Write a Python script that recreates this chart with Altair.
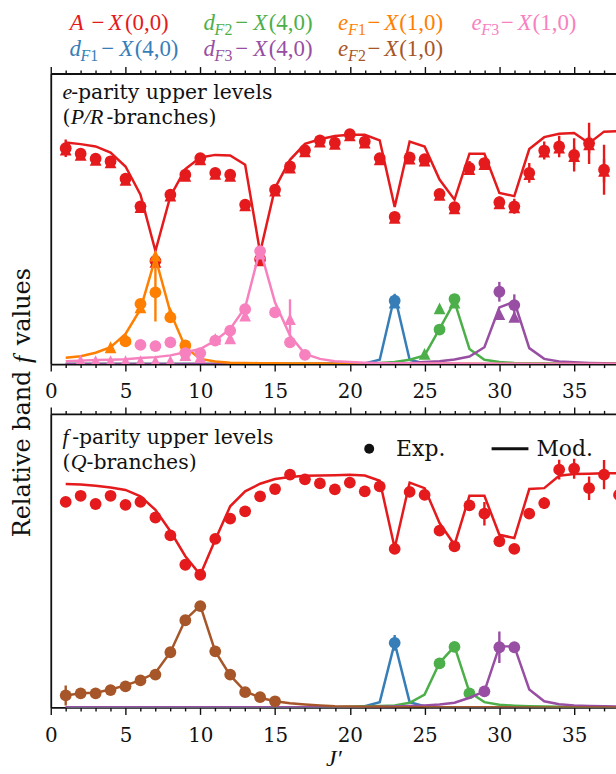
import altair as alt
import pandas as pd

# ---------------------------------------------------------------
# Rotational levels J' = 1..38 (model curves)
# ---------------------------------------------------------------
J = list(range(1, 39))

RED, BLUE, GREEN, PURPLE = "#e41a1c", "#377eb8", "#4daf4a", "#984ea3"
ORANGE, BROWN, PINK = "#ff7f00", "#a65628", "#f781bf"

# ---- e-parity upper levels (P/R branches): model ----
e_model_A = [0.763, 0.757, 0.749, 0.728, 0.680, 0.583, 0.389, 0.578, 0.671, 0.711,
             0.720, 0.718, 0.686, 0.384, 0.606, 0.703, 0.758, 0.774, 0.785, 0.789,
             0.789, 0.770, 0.541, 0.766, 0.749, 0.635, 0.566, 0.724, 0.724, 0.589,
             0.578, 0.740, 0.781, 0.793, 0.795, 0.760, 0.800, 0.802]
e_model_dF1 = [0.000, 0.000, 0.000, 0.000, 0.000, 0.000, 0.000, 0.000, 0.000, 0.000,
               0.000, 0.000, 0.000, 0.000, 0.000, 0.000, 0.000, 0.000, 0.000, 0.000,
               0.002, 0.015, 0.235, 0.015, 0.002, 0.000, 0.000, 0.000, 0.000, 0.000,
               0.000, 0.000, 0.000, 0.000, 0.000, 0.000, 0.000, 0.000]
e_model_dF2 = [0.000, 0.000, 0.000, 0.000, 0.000, 0.000, 0.000, 0.000, 0.000, 0.000,
               0.000, 0.000, 0.000, 0.000, 0.000, 0.001, 0.001, 0.001, 0.001, 0.002,
               0.003, 0.004, 0.007, 0.015, 0.030, 0.121, 0.215, 0.052, 0.015, 0.007,
               0.004, 0.003, 0.002, 0.001, 0.001, 0.001, 0.001, 0.001]
e_model_dF3 = [0.000, 0.000, 0.000, 0.000, 0.000, 0.000, 0.000, 0.000, 0.000, 0.000,
               0.000, 0.000, 0.000, 0.000, 0.000, 0.000, 0.000, 0.001, 0.001, 0.001,
               0.001, 0.002, 0.003, 0.004, 0.007, 0.010, 0.016, 0.026, 0.058, 0.195,
               0.215, 0.055, 0.018, 0.009, 0.006, 0.004, 0.003, 0.002]
e_model_eF1 = [0.022, 0.027, 0.039, 0.058, 0.104, 0.189, 0.366, 0.178, 0.058, 0.018,
               0.009, 0.005, 0.004, 0.003, 0.003, 0.002, 0.002, 0.002, 0.001, 0.001,
               0.001, 0.001, 0.001, 0.001, 0.001, 0.001, 0.001, 0.001, 0.000, 0.000,
               0.000, 0.000, 0.000, 0.000, 0.000, 0.000, 0.000, 0.000]
e_model_eF3 = [0.010, 0.012, 0.014, 0.015, 0.017, 0.021, 0.024, 0.030, 0.041, 0.052,
               0.081, 0.121, 0.195, 0.395, 0.212, 0.098, 0.035, 0.018, 0.010, 0.007,
               0.005, 0.004, 0.003, 0.003, 0.002, 0.002, 0.002, 0.001, 0.001, 0.001,
               0.001, 0.001, 0.000, 0.000, 0.000, 0.000, 0.000, 0.000]

# ---- e-parity: measurements (circles = P branch, triangles = R branch) ----
eP_A_J = list(range(1, 38))
eP_A = [0.743, 0.724, 0.707, 0.698, 0.638, 0.543, 0.355, 0.583, 0.652, 0.709,
        0.658, 0.652, 0.549, 0.361, 0.600, 0.680, 0.736, 0.770, 0.762, 0.791,
        0.766, 0.709, 0.507, 0.711, 0.705, 0.586, 0.540, 0.675, 0.692, 0.557,
        0.543, 0.658, 0.735, 0.749, 0.720, 0.760, 0.669]
eP_A_err = [0.030, 0.012, 0.012, 0.012, 0.012, 0.012, 0.010, 0.012, 0.012, 0.012,
            0.012, 0.012, 0.012, 0.010, 0.012, 0.012, 0.012, 0.012, 0.012, 0.012,
            0.012, 0.012, 0.015, 0.012, 0.012, 0.015, 0.015, 0.024, 0.018, 0.020,
            0.026, 0.034, 0.031, 0.037, 0.057, 0.071, 0.086]
eR_A_J = list(range(1, 38))
eR_A = [0.738, 0.720, 0.703, 0.694, 0.634, 0.540, 0.352, 0.580, 0.648, 0.705,
        0.655, 0.648, 0.546, 0.357, 0.597, 0.676, 0.732, 0.766, 0.758, 0.787,
        0.762, 0.705, 0.503, 0.707, 0.700, 0.582, 0.536, 0.671, 0.688, 0.553,
        0.539, 0.654, 0.731, 0.745, 0.716, 0.756, 0.665]
eR_A_err = [0.010, 0.010, 0.010, 0.010, 0.010, 0.010, 0.010, 0.010, 0.010, 0.010,
            0.010, 0.010, 0.010, 0.010, 0.010, 0.010, 0.010, 0.010, 0.010, 0.010,
            0.010, 0.010, 0.012, 0.010, 0.010, 0.012, 0.012, 0.015, 0.012, 0.015,
            0.018, 0.020, 0.020, 0.020, 0.030, 0.030, 0.040]

eP_dF1_J, eP_dF1, eP_dF1_err = [23], [0.218], [0.024]
eR_dF1_J, eR_dF1, eR_dF1_err = [23], [0.212], [0.010]
eP_dF2_J, eP_dF2, eP_dF2_err = [26, 27], [0.119, 0.224], [0.010, 0.012]
eR_dF2_J, eR_dF2, eR_dF2_err = [25, 26, 27], [0.035, 0.192, 0.212], [0.006, 0.010, 0.010]
eP_dF3_J, eP_dF3, eP_dF3_err = [30, 31], [0.249, 0.203], [0.034, 0.037]
eR_dF3_J, eR_dF3, eR_dF3_err = [30, 31], [0.172, 0.163], [0.010, 0.010]
eP_eF1_J = [5, 6, 7, 8, 9]
eP_eF1 = [0.078, 0.207, 0.247, 0.161, 0.064]
eP_eF1_err = [0.010, 0.012, 0.100, 0.012, 0.010]
eR_eF1_J = [4, 5, 6, 7, 8, 9]
eR_eF1 = [0.058, 0.089, 0.195, 0.373, 0.175, 0.062]
eR_eF1_err = [0.008, 0.008, 0.010, 0.010, 0.010, 0.008]
eP_eF3_J = [6, 7, 8, 9, 10, 11, 12, 13, 14, 15, 16, 17]
eP_eF3 = [0.066, 0.062, 0.075, 0.038, 0.038, 0.081, 0.115, 0.189, 0.389, 0.178, 0.075, 0.032]
eP_eF3_err = [0.008, 0.008, 0.008, 0.008, 0.008, 0.008, 0.010, 0.012, 0.012, 0.012, 0.010, 0.008]
eR_eF3_J = [2, 3, 4, 5, 6, 7, 8, 9, 10, 11, 12, 13, 14, 16]
eR_eF3 = [0.012, 0.010, 0.010, 0.010, 0.010, 0.010, 0.010, 0.031, 0.024, 0.087, 0.089, 0.167, 0.380, 0.155]
eR_eF3_err = [0.006, 0.006, 0.006, 0.006, 0.006, 0.006, 0.006, 0.006, 0.006, 0.008, 0.008, 0.010, 0.010, 0.068]

# ---- f-parity upper levels (Q branches): model ----
f_model_A = [0.761, 0.759, 0.755, 0.749, 0.741, 0.719, 0.673, 0.600, 0.515, 0.452,
             0.571, 0.685, 0.736, 0.762, 0.778, 0.785, 0.789, 0.790, 0.791, 0.793,
             0.790, 0.772, 0.543, 0.766, 0.747, 0.628, 0.554, 0.721, 0.721, 0.588,
             0.577, 0.744, 0.747, 0.789, 0.795, 0.796, 0.798, 0.798]
f_model_dF1 = [0.000, 0.000, 0.000, 0.000, 0.000, 0.000, 0.000, 0.000, 0.000, 0.000,
               0.000, 0.000, 0.000, 0.000, 0.000, 0.000, 0.000, 0.000, 0.000, 0.000,
               0.004, 0.018, 0.220, 0.018, 0.004, 0.000, 0.000, 0.000, 0.000, 0.000,
               0.000, 0.000, 0.000, 0.000, 0.000, 0.000, 0.000, 0.000]
f_model_dF2 = [0.000, 0.000, 0.000, 0.000, 0.000, 0.000, 0.000, 0.000, 0.000, 0.000,
               0.000, 0.000, 0.000, 0.000, 0.000, 0.001, 0.001, 0.001, 0.001, 0.002,
               0.003, 0.005, 0.007, 0.016, 0.044, 0.152, 0.208, 0.052, 0.018, 0.009,
               0.006, 0.004, 0.003, 0.002, 0.001, 0.001, 0.001, 0.001]
f_model_dF3 = [0.001, 0.001, 0.001, 0.001, 0.001, 0.001, 0.001, 0.001, 0.001, 0.001,
               0.001, 0.001, 0.001, 0.001, 0.001, 0.001, 0.001, 0.001, 0.001, 0.001,
               0.001, 0.002, 0.003, 0.005, 0.007, 0.010, 0.016, 0.033, 0.055, 0.208,
               0.208, 0.061, 0.021, 0.011, 0.007, 0.005, 0.004, 0.003]
f_model_eF2 = [0.041, 0.048, 0.050, 0.061, 0.075, 0.093, 0.118, 0.188, 0.299, 0.347,
               0.191, 0.109, 0.055, 0.033, 0.021, 0.014, 0.010, 0.007, 0.004, 0.003,
               0.002, 0.002, 0.001, 0.001, 0.001, 0.001, 0.001, 0.001, 0.001, 0.001,
               0.000, 0.000, 0.000, 0.000, 0.000, 0.000, 0.000, 0.000]

# ---- f-parity: measurements ----
fQ_A_J = list(range(1, 39))
fQ_A = [0.700, 0.721, 0.693, 0.721, 0.690, 0.700, 0.647, 0.586, 0.486, 0.452,
        0.574, 0.643, 0.668, 0.719, 0.744, 0.793, 0.777, 0.763, 0.743, 0.766,
        0.736, 0.753, 0.540, 0.734, 0.724, 0.602, 0.549, 0.688, 0.660, 0.566,
        0.540, 0.660, 0.696, 0.810, 0.813, 0.747, 0.793, 0.724]
fQ_A_err = [0.008, 0.008, 0.008, 0.008, 0.008, 0.008, 0.008, 0.008, 0.008, 0.008,
            0.008, 0.008, 0.008, 0.008, 0.008, 0.008, 0.008, 0.008, 0.008, 0.008,
            0.008, 0.008, 0.008, 0.008, 0.008, 0.008, 0.008, 0.008, 0.040, 0.010,
            0.008, 0.010, 0.020, 0.034, 0.034, 0.040, 0.050, 0.030]
fQ_dF1_J, fQ_dF1, fQ_dF1_err = [23], [0.220], [0.027]
fQ_dF2_J, fQ_dF2, fQ_dF2_err = [26, 27, 28], [0.150, 0.206, 0.048], [0.008, 0.008, 0.006]
fQ_dF3_J, fQ_dF3, fQ_dF3_err = [29, 30, 31], [0.055, 0.205, 0.205], [0.006, 0.054, 0.010]
fQ_eF2_J = list(range(1, 16))
fQ_eF2 = [0.041, 0.048, 0.048, 0.059, 0.072, 0.092, 0.112, 0.188, 0.297, 0.345,
          0.191, 0.112, 0.052, 0.035, 0.021]
fQ_eF2_err = [0.034, 0.006, 0.006, 0.006, 0.006, 0.006, 0.006, 0.006, 0.006, 0.006,
              0.006, 0.006, 0.006, 0.006, 0.006]

# ---------------------------------------------------------------
# Layout constants
# ---------------------------------------------------------------
W = 568
H_TOP, H_BOT = 292, 295
X_MAX = 37.8
INK = "#111111"
TEXT_FONT = "DejaVu Serif"
MATH_FONT = "Liberation Serif"
CIRCLE = "circle"
TRIANGLE = "M0,-1L1,1L-1,1Z"
MARKER_SIZE = 140

XS = alt.Scale(domain=[0, X_MAX], nice=False, zero=False)
YS = alt.Scale(domain=[0, 1], nice=False, zero=False)


def xenc(field="J"):
    return alt.X(f"{field}:Q", scale=XS, axis=None)


def yenc(field="f"):
    return alt.Y(f"{field}:Q", scale=YS, axis=None)


def model_layer(values, color):
    df = pd.DataFrame({"J": J, "f": values})
    return alt.Chart(df).mark_line(color=color, strokeWidth=2.5, clip=True).encode(
        x=xenc(), y=yenc())


def data_layers(js, vals, errs, color, shape):
    df = pd.DataFrame({
        "J": js, "f": vals,
        "lo": [v - e for v, e in zip(vals, errs)],
        "hi": [v + e for v, e in zip(vals, errs)],
    })
    base = alt.Chart(df)
    bars = base.mark_rule(color=color, strokeWidth=2.4, clip=True).encode(
        x=xenc(), y=yenc("lo"), y2="hi:Q")
    pts = base.mark_point(shape=shape, filled=True, opacity=1, size=MARKER_SIZE,
                          color=color, clip=True).encode(x=xenc(), y=yenc())
    return [bars, pts]


TICK_SIZE = {"condition": {"test": "datum.value % 5 === 0", "value": 7}, "value": 3.5}


def axis_layers(show_labels, with_title):
    anchor = pd.DataFrame({"J": [0.0], "f": [0.0]})
    layers = []
    for orient in ["bottom", "top"]:
        kw = dict(
            orient=orient, values=list(range(0, 38)), grid=False,
            tickSize=TICK_SIZE, tickWidth=1.4, tickColor=INK,
            domain=True, domainColor=INK, domainWidth=1.8,
            labels=show_labels, labelFont=TEXT_FONT, labelFontSize=20,
            labelColor=INK, labelPadding=11 if orient == "bottom" else 5,
            labelOverlap=False, labelFlush=False,
            labelExpr="datum.value % 5 === 0 ? datum.label : ''",
        )
        if orient == "bottom" and with_title:
            kw.update(title="J\u2032", titleFont=MATH_FONT, titleFontSize=24,
                      titleFontStyle="italic", titleFontWeight="normal",
                      titleColor=INK, titlePadding=1)
        else:
            kw.update(title=None)
        layers.append(alt.Chart(anchor).mark_point(opacity=0).encode(
            x=alt.X("J:Q", scale=XS, axis=alt.Axis(**kw)), y=yenc()))
    layers.append(alt.Chart(anchor).mark_point(opacity=0).encode(
        x=xenc(),
        y=alt.Y("f:Q", scale=YS, axis=alt.Axis(
            orient="left", domain=True, domainColor=INK, domainWidth=1.8,
            ticks=False, labels=False, grid=False, title=None))))
    return layers


def text_layer(rows, font, size, style="normal", baseline="alphabetic", angle=0):
    df = pd.DataFrame(rows, columns=["px", "py", "text", "color"])
    kw = dict(align="left", baseline=baseline, font=font, fontSize=size,
              fontStyle=style)
    if angle:
        kw["angle"] = angle
    return alt.Chart(df).mark_text(**kw).encode(
        x=alt.X("px:Q", scale=None, axis=None),
        y=alt.Y("py:Q", scale=None, axis=None),
        text="text:N",
        color=alt.Color("color:N", scale=None))


# ---------------------------------------------------------------
# Top panel: e-parity
# ---------------------------------------------------------------
top_layers = []
# fixes the top-left corner of the page
top_layers.append(alt.Chart(pd.DataFrame({"a": [0]})).mark_point(opacity=0, size=1).encode(
    x=alt.value(-50), y=alt.value(-71)))
top_layers += axis_layers(show_labels=False, with_title=False)

e_bands = [
    (e_model_A, RED, [(eP_A_J, eP_A, eP_A_err, CIRCLE), (eR_A_J, eR_A, eR_A_err, TRIANGLE)]),
    (e_model_dF1, BLUE, [(eP_dF1_J, eP_dF1, eP_dF1_err, CIRCLE), (eR_dF1_J, eR_dF1, eR_dF1_err, TRIANGLE)]),
    (e_model_dF2, GREEN, [(eP_dF2_J, eP_dF2, eP_dF2_err, CIRCLE), (eR_dF2_J, eR_dF2, eR_dF2_err, TRIANGLE)]),
    (e_model_dF3, PURPLE, [(eP_dF3_J, eP_dF3, eP_dF3_err, CIRCLE), (eR_dF3_J, eR_dF3, eR_dF3_err, TRIANGLE)]),
    (e_model_eF1, ORANGE, [(eP_eF1_J, eP_eF1, eP_eF1_err, CIRCLE), (eR_eF1_J, eR_eF1, eR_eF1_err, TRIANGLE)]),
    (e_model_eF3, PINK, [(eP_eF3_J, eP_eF3, eP_eF3_err, CIRCLE), (eR_eF3_J, eR_eF3, eR_eF3_err, TRIANGLE)]),
]
for model, color, series in e_bands:
    top_layers.append(model_layer(model, color))
    for js, vals, errs, shape in series:
        top_layers += data_layers(js, vals, errs, color, shape)

# band legend above the panels
legend_entries = [
    ("A", "", "", "(0,0)", RED, 19.0, -44),
    ("d", "F", "2", "(4,0)", GREEN, 153.5, -44),
    ("e", "F", "1", "(1,0)", ORANGE, 288.7, -44),
    ("e", "F", "3", "(1,0)", PINK, 422.7, -44),
    ("d", "F", "1", "(4,0)", BLUE, 18.8, -18),
    ("d", "F", "3", "(4,0)", PURPLE, 153.5, -18),
    ("e", "F", "2", "(1,0)", BROWN, 288.7, -18),
]
OFFSETS = {"A": (0, 0, 0, 22, 39, 55.5), "d": (0, 11, 21, 32, 50, 65.5),
           "e": (0, 10, 20, 29.5, 46.5, 61.5)}
leg_italic, leg_roman, leg_sub_it, leg_sub_rm = [], [], [], []
for sym, sub, num, paren, color, x0, yb in legend_entries:
    o = OFFSETS[sym]
    leg_italic.append((x0 + o[0], yb, sym, color))
    if sub:
        leg_sub_it.append((x0 + o[1], yb + 5, sub, color))
        leg_sub_rm.append((x0 + o[2], yb + 5, num, color))
    leg_roman.append((x0 + o[3], yb, "\u2212", color))
    leg_italic.append((x0 + o[4], yb, "X", color))
    leg_roman.append((x0 + o[5], yb, paren, color))
top_layers.append(text_layer(leg_italic, MATH_FONT, 23, "italic"))
top_layers.append(text_layer(leg_roman, MATH_FONT, 23))
top_layers.append(text_layer(leg_sub_it, MATH_FONT, 16, "italic"))
top_layers.append(text_layer(leg_sub_rm, MATH_FONT, 16))

# panel annotation
top_layers.append(text_layer([(11.7, 26, "e", INK), (20.0, 51, "P/R", INK)], MATH_FONT, 22, "italic"))
top_layers.append(text_layer([(20.5, 26, "-parity upper levels", INK), (11.7, 51, "(", INK),
                              (56.0, 51, "-branches)", INK)], TEXT_FONT, 20.5))

# shared y title, centred between the two panels
top_layers.append(text_layer([(-28, 466, "Relative band", INK), (-28, 273, "values", INK)],
                             TEXT_FONT, 24, baseline="middle", angle=270))
top_layers.append(text_layer([(-28, 291, "f", INK)], MATH_FONT, 26, "italic",
                             baseline="middle", angle=270))

top = alt.layer(*top_layers).properties(width=W, height=H_TOP).resolve_axis(
    x="independent", y="independent")

# ---------------------------------------------------------------
# Bottom panel: f-parity
# ---------------------------------------------------------------
bot_layers = axis_layers(show_labels=True, with_title=True)
f_bands = [
    (f_model_A, RED, [(fQ_A_J, fQ_A, fQ_A_err, CIRCLE)]),
    (f_model_dF1, BLUE, [(fQ_dF1_J, fQ_dF1, fQ_dF1_err, CIRCLE)]),
    (f_model_dF2, GREEN, [(fQ_dF2_J, fQ_dF2, fQ_dF2_err, CIRCLE)]),
    (f_model_dF3, PURPLE, [(fQ_dF3_J, fQ_dF3, fQ_dF3_err, CIRCLE)]),
    (f_model_eF2, BROWN, [(fQ_eF2_J, fQ_eF2, fQ_eF2_err, CIRCLE)]),
]
for model, color, series in f_bands:
    bot_layers.append(model_layer(model, color))
    for js, vals, errs, shape in series:
        bot_layers += data_layers(js, vals, errs, color, shape)

bot_layers.append(text_layer([(11.7, 30.5, "f", INK), (20.0, 55.5, "Q", INK)], MATH_FONT, 22, "italic"))
bot_layers.append(text_layer([(21.5, 30.5, "-parity upper levels", INK), (11.7, 55.5, "(", INK),
                              (36.0, 55.5, "-branches)", INK)], TEXT_FONT, 20.5))

# Exp. / Mod. key
bot_layers.append(alt.Chart(pd.DataFrame({"a": [0]})).mark_point(
    filled=True, opacity=1, size=100, color=INK, shape="circle").encode(
    x=alt.value(320), y=alt.value(35)))
bot_layers.append(alt.Chart(pd.DataFrame({"a": [0]})).mark_rule(
    color=INK, strokeWidth=3).encode(x=alt.value(443), x2=alt.value(480), y=alt.value(35)))
bot_layers.append(text_layer([(347, 35, "Exp.", INK), (488, 35, "Mod.", INK)],
                             TEXT_FONT, 22, baseline="middle"))

bottom = alt.layer(*bot_layers).properties(width=W, height=H_BOT).resolve_axis(
    x="independent", y="independent")

chart = alt.vconcat(top, bottom, spacing=50, bounds="flush").properties(
    padding={"left": 0, "top": 0, "right": 0, "bottom": 0}
).configure_view(stroke=None)

chart.save("out.html", embed_options={"renderer": "svg", "actions": False})
